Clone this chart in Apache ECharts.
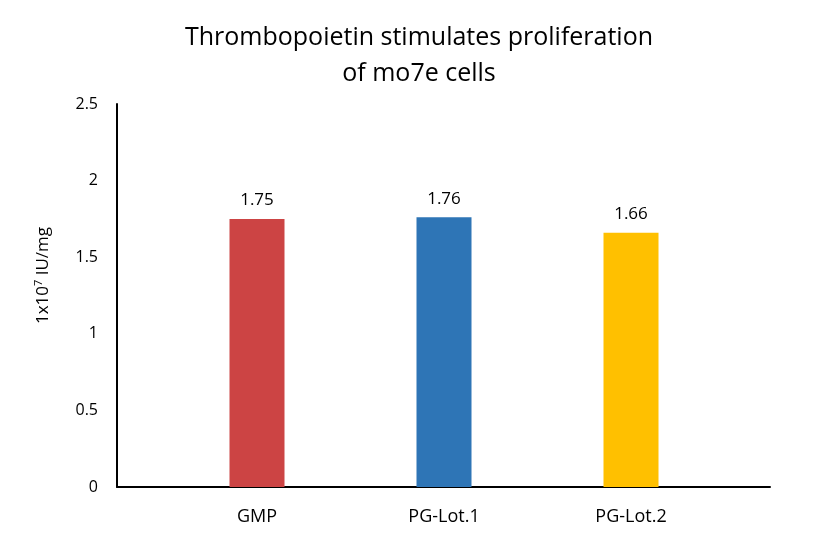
<!DOCTYPE html>
<html>
<head>
<meta charset="utf-8">
<script src="https://cdn.jsdelivr.net/npm/echarts@6/dist/echarts.min.js"></script>
<style>
  html, body { margin: 0; padding: 0; background: #fff; }
  #chart { width: 838px; height: 557px; }
</style>
</head>
<body>
<div id="chart"></div>
<script>
var categories = ['GMP', 'PG-Lot.1', 'PG-Lot.2'];
var values = [1.75, 1.76, 1.66];
var barColors = ['#CC4444', '#2E75B6', '#FFC000'];
var yTicks = [0, 0.5, 1, 1.5, 2, 2.5];

var font = 'Open Sans, Noto Sans, sans-serif';

var chart = echarts.init(document.getElementById('chart'));

var option = {
    backgroundColor: '#fff',
    animation: false,
    title: {
        text: 'Thrombopoietin stimulates proliferation\nof mo7e cells',
        left: 'center',
        top: 15,
        textStyle: { fontFamily: font, fontSize: 25, fontWeight: 'normal', color: '#000', lineHeight: 36 }
    },
    grid: [
        // bars
        { left: 163.5, right: 113.5, top: 104, bottom: 70 },
        // frame (axis lines)
        { left: 117, right: 68, top: 104, bottom: 70 }
    ],
    xAxis: [
        {
            gridIndex: 0,
            type: 'category',
            data: categories,
            axisLine: { show: false },
            axisTick: { show: false },
            axisLabel: { fontFamily: font, fontSize: 18, color: '#000', margin: 21 }
        },
        {
            gridIndex: 1,
            type: 'value',
            min: 0,
            max: 1,
            axisLine: { show: true, lineStyle: { color: '#000', width: 2 } },
            axisTick: { show: false },
            axisLabel: { show: false },
            splitLine: { show: false }
        }
    ],
    yAxis: [
        {
            gridIndex: 0,
            type: 'value',
            min: 0,
            max: 2.5,
            show: false
        },
        {
            gridIndex: 1,
            type: 'value',
            min: yTicks[0],
            max: yTicks[yTicks.length - 1],
            interval: 0.5,
            name: '{a|1x10}{s|7}{a| IU/mg}',
            nameLocation: 'middle',
            nameGap: 64,
            nameRotate: 90,
            nameTextStyle: {
                padding: [0, 0, 0, 40],
                rich: {
                    a: { fontFamily: font, fontSize: 17, color: '#000' },
                    s: { fontFamily: font, fontSize: 11, color: '#000', verticalAlign: 'top', padding: [0, 0, 9, 0] }
                }
            },
            axisLine: { show: true, lineStyle: { color: '#000', width: 2 } },
            axisTick: { show: false },
            axisLabel: { fontFamily: font, fontSize: 16, color: '#000', margin: 19 },
            splitLine: { show: false }
        }
    ],
    series: [
        {
            type: 'bar',
            xAxisIndex: 0,
            yAxisIndex: 0,
            barWidth: 55,
            data: values.map(function (v, i) {
                return { value: v, itemStyle: { color: barColors[i] } };
            }),
            label: {
                show: true,
                position: 'top',
                distance: 10,
                fontFamily: font,
                fontSize: 17,
                color: '#000'
            }
        }
    ]
};

chart.setOption(option);
</script>
</body>
</html>
